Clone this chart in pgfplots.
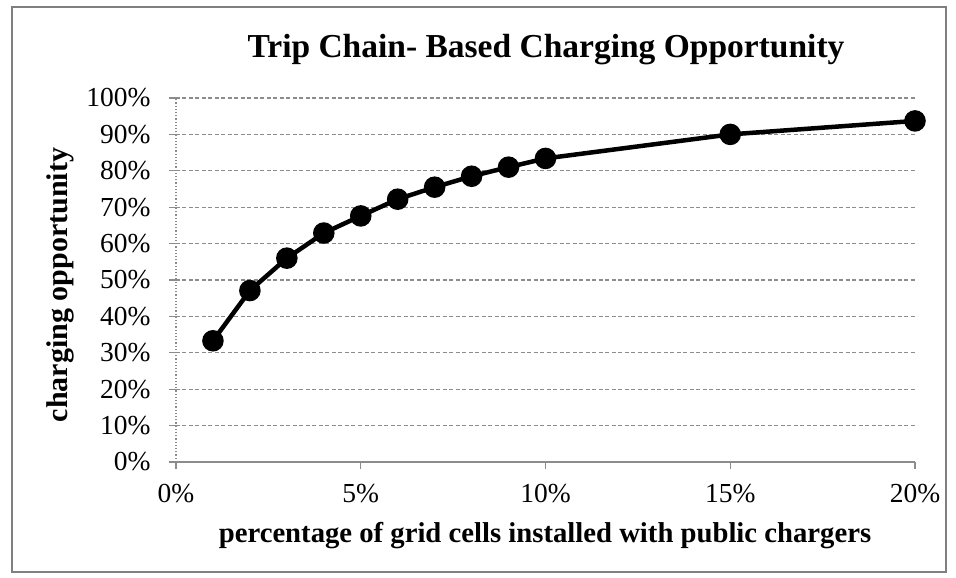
\documentclass[border=0pt]{standalone}
\usepackage{pgfplots}
\pgfplotsset{compat=1.18}
\usepackage{fontspec}
\setmainfont{Liberation Serif}
\definecolor{gridgray}{RGB}{140,140,140}
\definecolor{framegray}{RGB}{128,128,128}
\begin{document}
\begin{tikzpicture}[x=1pt,y=1pt]
\path[fill=white] (-176,-116) rectangle (780,462);
\draw[framegray,line width=1.5pt] (-164,-110) rectangle (770,455);
\begin{axis}[
  at={(0,0)}, anchor=origin,
  scale only axis, width=739pt, height=364pt,
  xmin=0, xmax=20, ymin=0, ymax=100,
  axis x line*=bottom, axis y line*=left,
  x axis line style={gridgray,line width=1.2pt,-},
  y axis line style={gridgray,line width=1.2pt,dotted,-},
  xtick={0,5,10,15,20},
  xticklabels={0\%,5\%,10\%,15\%,20\%},
  ytick={0,10,...,100},
  yticklabels={0\%,10\%,20\%,30\%,40\%,50\%,60\%,70\%,80\%,90\%,100\%},
  tick align=outside,
  major tick length=7pt,
  tick style={gridgray,line width=1.2pt},
  ymajorgrids,
  grid style={gridgray,line width=1.2pt,dash pattern=on 4pt off 2.5pt},
  ticklabel style={font=\fontsize{27.5}{32}\selectfont},
  xticklabel style={yshift=-12pt},
  yticklabel style={xshift=-15pt},
  clip=false,
]
\addplot[black, line width=4.5pt, mark=*, mark size=8.5pt, mark options={fill=black}] coordinates {
 (1,33.3) (2,47.1) (3,56.0) (4,62.9) (5,67.6) (6,72.2) (7,75.5) (8,78.5) (9,81.0) (10,83.4) (15,90.0) (20,93.7)
};
\end{axis}
\node[anchor=base, font=\fontsize{33.5}{38}\selectfont\bfseries] at (370,404) {Trip Chain- Based Charging Opportunity};
\node[anchor=base, font=\fontsize{28.7}{33}\selectfont\bfseries] at (369,-81) {percentage of grid cells installed with public chargers};
\node[rotate=90, font=\fontsize{30}{34}\selectfont\bfseries] at (-116,177) {charging opportunity};
\end{tikzpicture}
\end{document}
